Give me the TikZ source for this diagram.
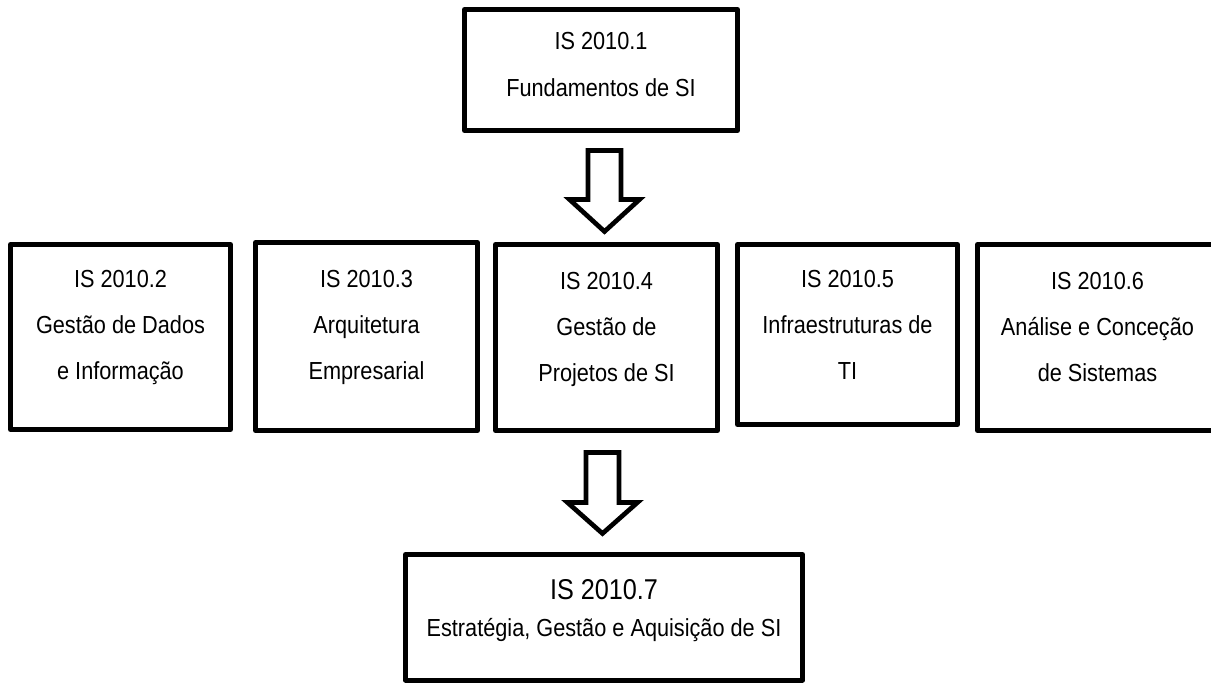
\documentclass[tikz,border=0pt]{standalone}
\usepackage{fontspec}
\setmainfont{Liberation Sans}[FakeStretch=0.88]
\usetikzlibrary{positioning}

\begin{document}
\begin{tikzpicture}[x=0.75pt,y=-0.75pt,
  box/.style={draw,line width=3.75pt,line join=round,inner sep=0pt},
  boxtext/.style={align=center,inner sep=0pt,font=\fontsize{18.5}{34.5}\selectfont},
  blockarrow/.style={draw,line width=3.5pt,fill=white,line join=miter}]
  \useasboundingbox (0,0) rectangle (1211,683);
  % top
  %boxes
  \node[box,minimum width=204.75pt,minimum height=90.75pt,at={(601,70)}] (b1) {};
  %labels
  \node[boxtext,font=\fontsize{18.5}{35.25}\selectfont,below=18.5pt of b1.north] (t1) {IS 2010.1\\Fundamentos de SI};

  % middle
  %boxes
  \node[box,minimum width=165pt,minimum height=138.75pt,at={(120.5,337)}] (b2) {};
  \node[box,minimum width=166.5pt,minimum height=141pt,at={(366.5,336.5)}] (b3) {};
  \node[box,minimum width=166.5pt,minimum height=139.5pt,at={(606.5,337.5)}] (b4) {};
  \node[box,minimum width=165pt,minimum height=135pt,at={(847.5,334.5)}] (b5) {};
  \node[box,minimum width=180pt,minimum height=139.5pt,at={(1097.5,337.5)}] (b6) {};
  %labels
  \node[boxtext,below=21pt of b2.north] (t2) {IS 2010.2\\Gestão de Dados\\e Informação};
  \node[boxtext,below=22.5pt of b3.north] (t3) {IS 2010.3\\Arquitetura\\Empresarial};
  \node[boxtext,below=22.5pt of b4.north] (t4) {IS 2010.4\\Gestão de\\Projetos de SI};
  \node[boxtext,below=21pt of b5.north] (t5) {IS 2010.5\\Infraestruturas de\\TI};
  \node[boxtext,below=22.5pt of b6.north] (t6) {IS 2010.6\\Análise e Conceção\\de Sistemas};

  % bottom
  %boxes
  \node[box,minimum width=297.75pt,minimum height=94.125pt,at={(604,617.25)}] (b7) {};
  %labels
  \node[boxtext,font=\fontsize{18.5}{27.75}\selectfont,below=20.5pt of b7.north] (t7)
    {{\fontsize{21.5}{27.75}\selectfont IS 2010.7}\\Estratégia, Gestão e Aquisição de SI};

  % arrows
  \coordinate (a1) at (604.5,150.5);
  \coordinate (a2) at (602.5,452.5);
  \draw[blockarrow] (a1) ++(-16.5,0) -- ++(0,49) -- ++(-18.5,0) -- ++(35,32)
    -- ++(35,-32) -- ++(-18.5,0) -- ++(0,-49) -- cycle;
  \draw[blockarrow] (a2) ++(-16.5,0) -- ++(0,50) -- ++(-18.5,0) -- ++(35,31)
    -- ++(35,-31) -- ++(-18.5,0) -- ++(0,-50) -- cycle;
\end{tikzpicture}
\end{document}
